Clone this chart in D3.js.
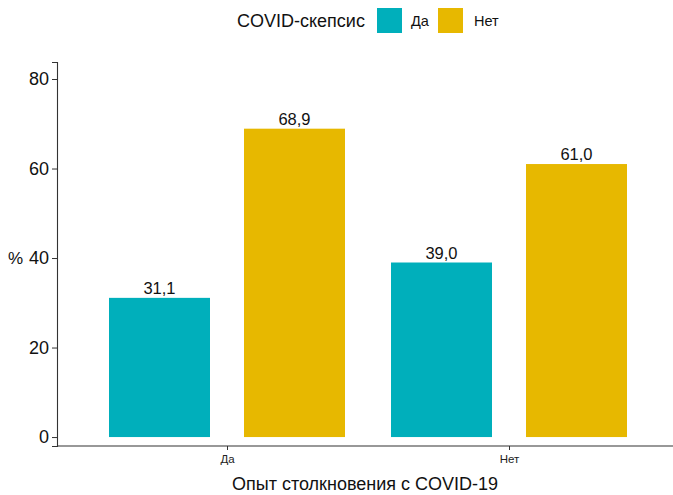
<!DOCTYPE html>
<html><head><meta charset="utf-8">
<script src="https://cdn.jsdelivr.net/npm/d3@7"></script>
<style>body{margin:0;background:#fff}text{font-family:"Liberation Sans",Arial,sans-serif}</style>
</head><body>
<svg id="c" width="673" height="495"></svg>
<script>
const groups = ["Да", "Нет"];
const series = ["Да", "Нет"];
const values = {"Да": [31.1, 39.0], "Нет": [68.9, 61.0]};
const labels = {"Да": ["31,1", "39,0"], "Нет": ["68,9", "61,0"]};
const colors = ["#00AFBB", "#E7B800"];
const yTicks = [0, 20, 40, 60, 80];

const svg = d3.select("#c");
const mLeft = 57, mRight = 673, mTop = 62, mBottom = 446;
const y = d3.scaleLinear().domain([-2.0, 83.8]).range([mBottom, mTop]);
const x = d3.scalePoint().domain(groups).range([227, 509]);
const barW = 101, gap = 34;
const xs = d3.scaleOrdinal().domain(series).range([-(gap/2 + barW/2), gap/2 + barW/2]);

const data = [];
groups.forEach((g, gi) => series.forEach((s, si) => data.push({g, s, si, v: values[s][gi], l: labels[s][gi]})));

data.forEach(d => {
  const cx = x(d.g) + xs(d.s);
  svg.append("rect").attr("x", cx - barW/2).attr("width", barW)
    .attr("y", y(d.v)).attr("height", y(0) - y(d.v)).attr("fill", colors[d.si]);
  svg.append("text").attr("x", cx).attr("y", y(d.v) - 4).attr("text-anchor", "middle")
    .attr("font-size", 16.5).attr("fill", "#111").text(d.l);
});

// y axis
const ya = svg.append("g").attr("transform", `translate(${mLeft},0)`)
  .call(d3.axisLeft(y).tickValues(yTicks).tickSize(5).tickPadding(3));
ya.select(".domain").attr("stroke", "#333").attr("stroke-width", 1.1);
ya.selectAll(".tick line").attr("stroke", "#333");
ya.selectAll(".tick text").attr("font-size", 18).attr("fill", "#111").attr("font-family", "Liberation Sans, Arial");
// x axis
const xa = svg.append("g").attr("transform", `translate(0,${mBottom})`)
  .call(d3.axisBottom(x).tickSize(4).tickPadding(5));
xa.select(".domain").remove();
svg.append("line").attr("x1", mLeft).attr("x2", mRight).attr("y1", mBottom).attr("y2", mBottom).attr("stroke", "#333").attr("stroke-width", 1.1);
xa.selectAll(".tick line").attr("stroke", "#333");
xa.selectAll(".tick text").attr("font-size", 11.5).attr("fill", "#222").attr("font-family", "Liberation Sans, Arial");

// axis titles
svg.append("text").attr("x", 365).attr("y", 490).attr("text-anchor", "middle").attr("font-size", 18).attr("fill", "#111").text("Опыт столкновения с COVID-19");
svg.append("text").attr("x", 8).attr("y", 264).attr("font-size", 17).attr("fill", "#111").text("%");

// legend
svg.append("text").attr("x", 237).attr("y", 27).attr("font-size", 18).attr("fill", "#111").text("COVID-скепсис");
const lx = [377, 438], tx = [411, 474];
series.forEach((s, i) => {
  svg.append("rect").attr("x", lx[i]).attr("y", 8).attr("width", 25).attr("height", 25).attr("fill", colors[i]);
  svg.append("text").attr("x", tx[i]).attr("y", 26).attr("font-size", 14.5).attr("fill", "#111").text(s);
});
</script>
</body></html>
